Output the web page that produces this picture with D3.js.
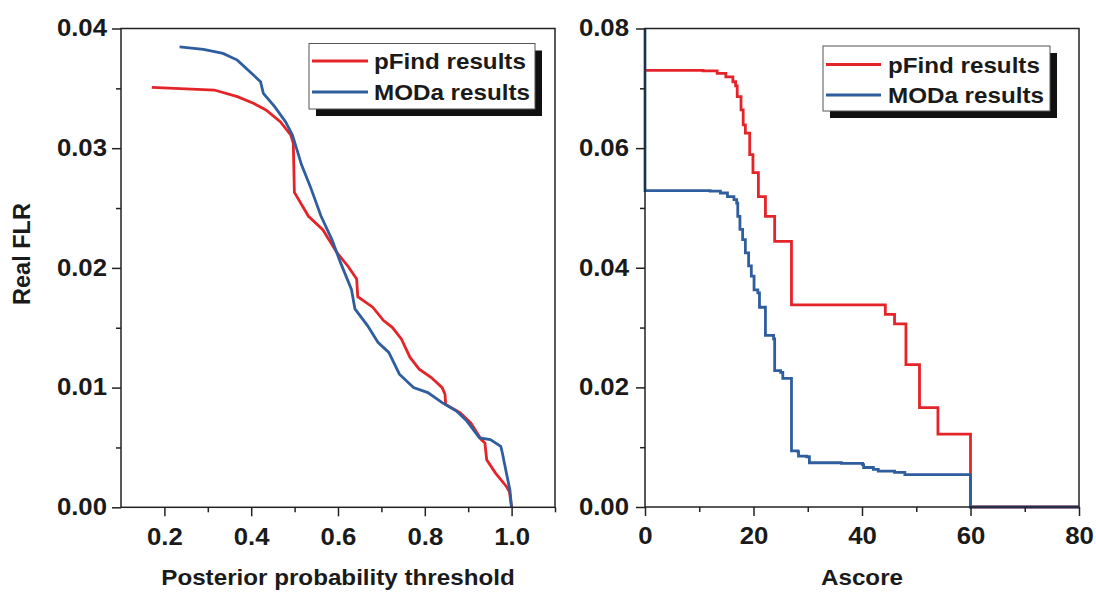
<!DOCTYPE html>
<html><head><meta charset="utf-8">
<script src="https://cdn.jsdelivr.net/npm/d3@7"></script>
<style>
body{margin:0;background:#fff}
svg{display:block}
text{font-family:"Liberation Sans",Arial,sans-serif;font-weight:bold;fill:#1a1a1a}
</style>
</head><body><svg id="c" width="1096" height="593"></svg>
<script>
const seriesNames = ["pFind results", "MODa results"];
const seriesColors = ["#e5242a", "#2f5e9e"];

// Left panel: Real FLR vs posterior probability threshold
const thrPfindX = [0.171,0.315,0.368,0.405,0.434,0.467,0.491,0.497,0.4995,0.532,0.565,0.598,0.623,0.643,0.6455,0.680,0.705,0.725,0.746,0.766,0.787,0.815,0.840,0.8466,0.848,0.881,0.906,0.930,0.9385,0.9426,0.963,0.988,0.995,1.0];
const thrPfindY = [0.03508,0.03486,0.03431,0.03375,0.0332,0.03222,0.03111,0.03042,0.02631,0.02431,0.02319,0.02125,0.02014,0.01908,0.0176,0.01672,0.0156,0.01504,0.01406,0.01252,0.01154,0.01084,0.0100,0.00944,0.0086,0.0079,0.00706,0.00566,0.00538,0.00398,0.00286,0.00174,0.0013,0];
const thrModaX = [0.235,0.290,0.335,0.368,0.397,0.4215,0.428,0.454,0.479,0.495,0.516,0.536,0.561,0.586,0.606,0.631,0.639,0.668,0.692,0.717,0.7415,0.774,0.807,0.840,0.873,0.897,0.926,0.951,0.975,0.9787,0.988,0.996,1.0];
const thrModaY = [0.03847,0.03825,0.03792,0.03736,0.03639,0.03556,0.03458,0.03347,0.03222,0.03111,0.02861,0.02681,0.02431,0.02236,0.02042,0.0182,0.01658,0.01518,0.01378,0.01294,0.01112,0.0100,0.00958,0.00874,0.00804,0.0072,0.0058,0.00566,0.0051,0.00454,0.00286,0.00146,0];

// Right panel: Real FLR vs Ascore (step curves)
const ascPfindX = [0,10.7,13.3,14.9,16.2,16.7,17.0,17.7,18.1,18.5,19.3,19.9,20.9,22.2,23.9,27.0,44.3,46.0,48.1,50.6,54.0,60.0,80];
const ascPfindY = [0.0730,0.0729,0.0725,0.0719,0.0711,0.0704,0.0686,0.0664,0.0639,0.0625,0.0589,0.0559,0.0519,0.0486,0.0444,0.0338,0.0322,0.0306,0.0238,0.0166,0.0122,0,0];
const ascModaX = [0,0,12.0,13.9,15.2,16.4,16.9,17.1,17.5,18.0,18.5,19.1,19.6,20.1,20.8,21.1,22.2,23.7,23.9,25.0,25.4,27.0,28.2,28.3,29.8,30.3,36.2,40.1,40.3,42.1,43.0,46.0,47.9,60.0,80];
const ascModaY = [0.08,0.0529,0.0528,0.0525,0.0519,0.0514,0.0508,0.0486,0.0464,0.0447,0.0425,0.0403,0.0386,0.0363,0.0358,0.0334,0.0287,0.0281,0.0228,0.0225,0.0215,0.0094,0.0092,0.0085,0.0084,0.0074,0.0073,0.0071,0.0066,0.0063,0.0060,0.0058,0.0054,0,0];

// ticks
const leftXMajor = [0.2,0.4,0.6,0.8,1.0];
const leftXMinor = [0.3,0.5,0.7,0.9,1.1];
const leftYMajor = [0,0.01,0.02,0.03,0.04];
const leftYMinor = [0.005,0.015,0.025,0.035];
const rightXMajor = [0,20,40,60,80];
const rightXMinor = [10,30,50,70];
const rightYMajor = [0,0.02,0.04,0.06,0.08];
const rightYMinor = [0.01,0.03,0.05,0.07];

const svg = d3.select("#c");
const AX = "#222";

function panel(o) {
  const x = d3.scaleLinear().domain(o.xDomain).range([o.x0, o.x1]);
  const y = d3.scaleLinear().domain(o.yDomain).range([o.y1, o.y0]);
  const g = svg.append("g");

  const curve = o.step ? d3.curveStepAfter : d3.curveLinear;
  o.series.forEach((s, i) => {
    const pts = s.x.map((v, k) => [v, s.y[k]]);
    g.append("path")
      .attr("d", d3.line().x(d => x(d[0])).y(d => y(d[1])).curve(curve)(pts))
      .attr("fill", "none").attr("stroke", seriesColors[i])
      .attr("stroke-width", 2.8).attr("stroke-linejoin", "miter");
  });

  g.append("rect").attr("x", o.x0).attr("y", o.y0)
    .attr("width", o.x1 - o.x0).attr("height", o.y1 - o.y0)
    .attr("fill", "none").attr("stroke", AX).attr("stroke-width", 1.5);

  const styleAxis = sel => {
    sel.select(".domain").remove();
    sel.selectAll("line").attr("stroke", AX).attr("stroke-width", 1.5);
    sel.selectAll("text").attr("font-size", 23).attr("class", "tk").attr("fill", "#1a1a1a")
      .style("font-family", '"Liberation Sans",Arial,sans-serif').style("font-weight", "bold");
  };
  g.append("g").attr("transform", `translate(0,${o.y1})`)
    .call(d3.axisBottom(x).tickValues(o.xMinor).tickSize(5).tickFormat(""))
    .call(styleAxis);
  g.append("g").attr("transform", `translate(0,${o.y1})`)
    .call(d3.axisBottom(x).tickValues(o.xMajor).tickSize(9).tickPadding(12).tickFormat(o.xFmt))
    .call(styleAxis);
  g.append("g").attr("transform", `translate(${o.x0},0)`)
    .call(d3.axisLeft(y).tickValues(o.yMinor).tickSize(5).tickFormat(""))
    .call(styleAxis);
  g.append("g").attr("transform", `translate(${o.x0},0)`)
    .call(d3.axisLeft(y).tickValues(o.yMajor).tickSize(9).tickPadding(o.yPad).tickFormat(d3.format(".2f")))
    .call(styleAxis);

  g.append("text").attr("class", "st").attr("x", (o.x0 + o.x1) / 2).attr("y", 585)
    .attr("text-anchor", "middle").attr("font-size", 22.5).text(o.xTitle);

  const L = o.legend;
  g.append("rect").attr("x", L.x + 7).attr("y", L.y + 7).attr("width", L.w).attr("height", L.h).attr("fill", "#111");
  g.append("rect").attr("x", L.x).attr("y", L.y).attr("width", L.w).attr("height", L.h)
    .attr("fill", "#fff").attr("stroke", "#555").attr("stroke-width", 1);
  seriesNames.forEach((n, i) => {
    const ly = L.y + L.row0 + i * L.dy;
    g.append("line").attr("x1", L.x + 3).attr("x2", L.x + L.lineW).attr("y1", ly).attr("y2", ly)
      .attr("stroke", seriesColors[i]).attr("stroke-width", 3);
    g.append("text").attr("class", "st").attr("x", L.x + L.textX).attr("y", ly + 8)
      .attr("font-size", 22.5).text(n);
  });
}

panel({
  x0: 121, x1: 555, y0: 28.5, y1: 507.3,
  xDomain: [0.1, 1.1], yDomain: [0, 0.04],
  xMajor: leftXMajor, xMinor: leftXMinor, yMajor: leftYMajor, yMinor: leftYMinor,
  xFmt: d3.format(".1f"), yPad: 5, step: false,
  xTitle: "Posterior probability threshold",
  series: [{x: thrPfindX, y: thrPfindY}, {x: thrModaX, y: thrModaY}],
  legend: {x: 309, y: 43.5, w: 226, h: 65.5, row0: 17.5, dy: 31, lineW: 59, textX: 65}
});

panel({
  x0: 645, x1: 1079, y0: 28.5, y1: 507,
  xDomain: [0, 80], yDomain: [0, 0.08],
  xMajor: rightXMajor, xMinor: rightXMinor, yMajor: rightYMajor, yMinor: rightYMinor,
  xFmt: d3.format("d"), yPad: 7, step: true,
  xTitle: "Ascore",
  series: [{x: ascPfindX, y: ascPfindY}, {x: ascModaX, y: ascModaY}],
  legend: {x: 823, y: 46, w: 227, h: 65, row0: 18.5, dy: 30.5, lineW: 58, textX: 65}
});

svg.append("text").attr("transform", "translate(30,254) rotate(-90)")
  .attr("text-anchor", "middle").attr("font-size", 23.5).text("Real FLR");

// horizontal stretch of text as in the reference
function stretch(sel, k) {
  sel.each(function () {
    const w = this.getComputedTextLength();
    if (w > 0) d3.select(this).attr("textLength", w * k).attr("lengthAdjust", "spacingAndGlyphs");
  });
}
stretch(svg.selectAll("text.tk"), 1.12);
stretch(svg.selectAll("text.st"), 1.075);
</script>
</body></html>
